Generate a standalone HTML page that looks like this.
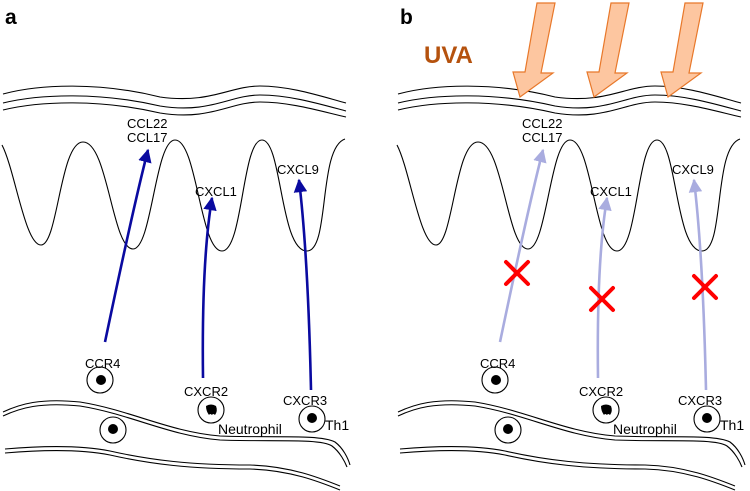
<!DOCTYPE html>
<html><head><meta charset="utf-8"><style>
html,body{margin:0;padding:0;background:#fff;}
svg{display:block;font-family:"Liberation Sans",Arial,sans-serif;}
</style></head><body>
<svg width="750" height="491" viewBox="0 0 750 491" xmlns="http://www.w3.org/2000/svg">
<defs>
<marker id="ah" viewBox="0 0 10 10" refX="9" refY="5" markerWidth="5.2" markerHeight="5.2" orient="auto" markerUnits="strokeWidth">
<path d="M0,0 L10,5 L0,10 z" fill="#0a0aa0"/></marker>
<marker id="ahl" viewBox="0 0 10 10" refX="9" refY="5" markerWidth="5.2" markerHeight="5.2" orient="auto" markerUnits="strokeWidth">
<path d="M0,0 L10,5 L0,10 z" fill="#a9acdf"/></marker>
<g id="base" fill="none" stroke="#000" stroke-width="1.1">
<path d="M3,94 C40,84 100,82 160,97 C210,104 230,86 260,86 C290,86 320,96 346,103"/>
<path d="M3,103 C40,94 100,92 160,106 C210,114 230,95 260,95 C290,95 320,104 346,111"/>
<path d="M3,110 C40,101 100,99 160,113 C210,121 230,102 260,102 C290,102 320,111 346,117"/>
<path d="M2,145 C15,170 25,245 41,245 C58,245 60,142 83,142 C108,142 112,249 133,249 C152,249 155,140 175,140 C197,140 200,251 222,251 C243,251 242,140 262,140 C282,140 280,251 307,251 C330,251 318,148 345,139"/>
<path d="M3,412 C20,404 40,398 80,402 C130,410 170,432 220,436 C270,438 320,434 335,442 C343,448 348,458 350,465"/>
<path d="M3,416 C20,408 40,402 80,406 C130,414 170,436 220,440 C270,442 320,438 332,446 C340,452 345,462 347,467"/>
<path d="M5,449 C40,446 80,445 110,451 C150,460 190,465 250,465 C290,466 320,478 340,486"/>
<path d="M5,453 C40,450 80,449 110,455 C150,464 190,469 250,469 C290,470 320,482 340,490"/>
<circle cx="100" cy="380" r="13"/>
<circle cx="113" cy="430" r="13"/>
<circle cx="211" cy="410" r="13"/>
<circle cx="312" cy="419" r="13"/>
</g>
</defs>
<g font-size="13" fill="#000">
<use href="#base"/>
<circle cx="101" cy="380" r="5"/><circle cx="113" cy="429" r="5"/><circle cx="312" cy="418" r="5"/>
<path d="M206,406 q5,-3 10,0 q2,5 -1,9 q-2,-2 -3,0 q-2,-2 -3,0 q-3,-4 -3,-9z"/>
<text x="5" y="24" font-size="21" font-weight="bold">a</text>
<text x="127" y="128">CCL22</text><text x="127" y="142">CCL17</text>
<text x="195" y="196">CXCL1</text><text x="277" y="174">CXCL9</text>
<text x="85" y="368">CCR4</text><text x="184" y="396">CXCR2</text><text x="283" y="405">CXCR3</text>
<text x="218" y="434" font-size="14">Neutrophil</text><text x="325" y="430" font-size="14">Th1</text>
<g fill="none" stroke="#0a0aa0" stroke-width="2.6">
<path d="M105,342 C118,280 135,200 148,150" marker-end="url(#ah)"/>
<path d="M203,378 C202,300 205,240 212,198" marker-end="url(#ah)"/>
<path d="M311,390 C309,300 305,230 299,180" marker-end="url(#ah)"/>
</g>
</g>
<g font-size="13" fill="#000" transform="translate(395,0)">
<use href="#base"/>
<circle cx="101" cy="380" r="5"/><circle cx="113" cy="429" r="5"/><circle cx="312" cy="418" r="5"/>
<path d="M206,406 q5,-3 10,0 q2,5 -1,9 q-2,-2 -3,0 q-2,-2 -3,0 q-3,-4 -3,-9z"/>
<text x="5" y="24" font-size="21" font-weight="bold">b</text>
<text x="127" y="128">CCL22</text><text x="127" y="142">CCL17</text>
<text x="195" y="196">CXCL1</text><text x="277" y="174">CXCL9</text>
<text x="85" y="368">CCR4</text><text x="184" y="396">CXCR2</text><text x="283" y="405">CXCR3</text>
<text x="218" y="434" font-size="14">Neutrophil</text><text x="325" y="430" font-size="14">Th1</text>
<g fill="none" stroke="#a9acdf" stroke-width="2.6">
<path d="M105,342 C118,280 135,200 148,150" marker-end="url(#ahl)"/>
<path d="M203,378 C202,300 205,240 212,198" marker-end="url(#ahl)"/>
<path d="M311,390 C309,300 305,230 299,180" marker-end="url(#ahl)"/>
</g>
</g>
<g stroke="#f00" stroke-width="4" stroke-linecap="round">
<path d="M506,262 L528,284 M528,262 L506,284"/>
<path d="M591,288 L613,310 M613,288 L591,310"/>
<path d="M694,276 L716,298 M716,276 L694,298"/>
</g>
<text x="424" y="63" font-size="24" font-weight="bold" fill="#b5520e">UVA</text>
<g fill="#fdc6a0" stroke="#e8782a" stroke-width="1.2" stroke-linejoin="miter">
<path d="M537,3 L555,3 L541,73 L553,73 L520,97 L513,72 L525,72 Z"/>
<path d="M611,3 L629,3 L615,73 L627,73 L594,97 L587,72 L599,72 Z"/>
<path d="M685,3 L703,3 L689,73 L701,73 L668,97 L661,72 L673,72 Z"/>
</g>
</svg>
</body></html>
